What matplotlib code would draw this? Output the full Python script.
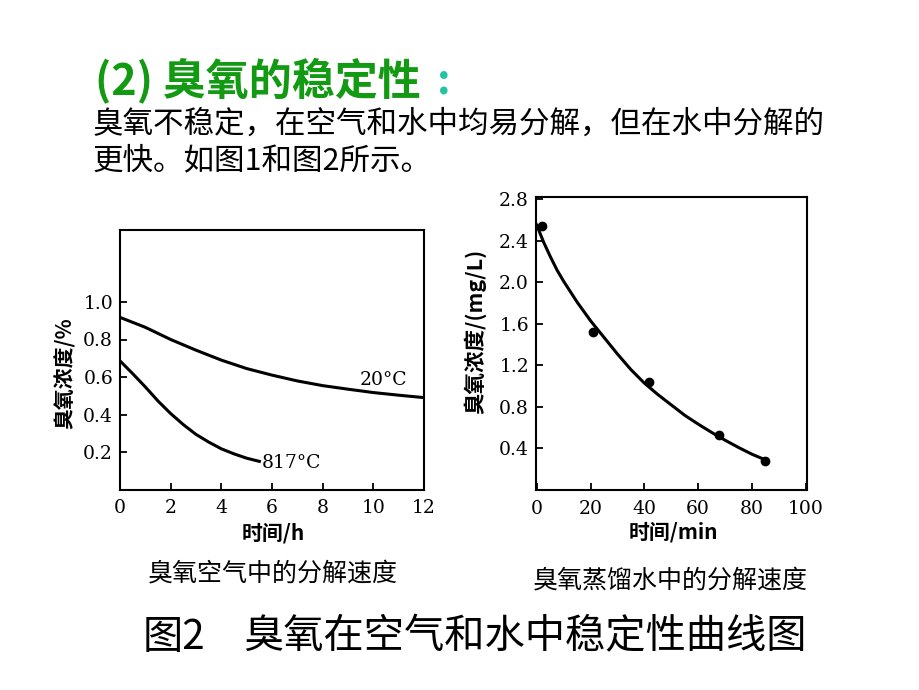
import matplotlib
matplotlib.use("Agg")
import matplotlib.pyplot as plt
import numpy as np

plt.rcParams['font.family'] = ['Noto Sans CJK SC', 'DejaVu Sans']

# 图1: 空气中 (时间/h, 浓度/%)
t_air = [0, 1, 2, 3, 4, 5, 6, 7, 8, 9, 10, 11, 12]
c_20 = [0.918, 0.865, 0.80, 0.743, 0.69, 0.645, 0.61, 0.579, 0.554, 0.535, 0.517, 0.503, 0.49]
t_817 = [0, 0.5, 1, 1.5, 2, 2.5, 3, 3.5, 4, 4.5, 5, 5.5]
c_817 = [0.686, 0.618, 0.547, 0.472, 0.405, 0.346, 0.294, 0.253, 0.217, 0.19, 0.167, 0.15]

# 图2: 蒸馏水中 (时间/min, 浓度 mg/L)
t_pts = [2.1, 21, 41.6, 67.6, 85]
c_pts = [2.54, 1.52, 1.04, 0.53, 0.28]
t_fit = [-1.3, 0, 2.5, 5, 7.5, 10, 15, 20, 25, 30, 35, 40, 45, 50, 55, 60, 65, 70, 75, 80, 85]
c_fit = [2.62, 2.55, 2.39, 2.25, 2.12, 2.01, 1.81, 1.63, 1.47, 1.31, 1.16, 1.03, 0.92, 0.82,
         0.72, 0.635, 0.555, 0.48, 0.41, 0.345, 0.29]

W, H = 920, 690
fig = plt.figure(figsize=(W / 100, H / 100), dpi=100)
fig.patch.set_facecolor('white')


def px(x, y):
    return x / W, 1 - y / H


serif = 'DejaVu Serif'

# ---- left chart
ax1 = fig.add_axes([120 / W, 1 - 489.5 / H, 304 / W, 259.5 / H])
ax1.plot(t_air, c_20, color='black', lw=2.2)
ax1.plot(t_817, c_817, color='black', lw=2.2)
ax1.set_xlim(0, 12)
ax1.set_ylim(0, 1.384)
ax1.set_xticks([0, 2, 4, 6, 8, 10, 12])
ax1.set_yticks([0.2, 0.4, 0.6, 0.8, 1.0])
ax1.set_yticklabels(['0.2', '0.4', '0.6', '0.8', '1.0'])
ax1.text(9.47, 0.583, '20°C', family=serif, fontsize=13.5, va='center', ha='left')
ax1.text(5.6, 0.14, '817°C', family=serif, fontsize=13.5, va='center', ha='left')
ax1.set_xlabel('时间/h', fontsize=15, fontweight='bold')
ax1.set_ylabel('臭氧浓度/%', fontsize=15, fontweight='bold')
ax1.xaxis.set_label_coords((273 - 120) / 304, -(533 - 489.5) / 259.5)
ax1.yaxis.set_label_coords((65 - 120) / 304, (489.5 - 373) / 259.5)

# ---- right chart
ax2 = fig.add_axes([536 / W, 1 - 490 / H, 271.3 / W, 292.7 / H])
ax2.plot(t_fit, c_fit, color='black', lw=2.2)
ax2.plot(t_pts, c_pts, 'o', color='black', markersize=6)
ax2.set_xlim(-0.3, 100.6)
ax2.set_ylim(0, 2.82)
ax2.set_xticks([0, 20, 40, 60, 80, 100])
ax2.set_yticks([0.4, 0.8, 1.2, 1.6, 2.0, 2.4, 2.8])
ax2.set_yticklabels(['0.4', '0.8', '1.2', '1.6', '2.0', '2.4', '2.8'])
ax2.set_xlabel('时间/min', fontsize=15, fontweight='bold')
ax2.set_ylabel('臭氧浓度/(mg/L)', fontsize=15.5, fontweight='bold')
ax2.xaxis.set_label_coords((673 - 536) / 271.3, -(532 - 490) / 292.7)
ax2.yaxis.set_label_coords((475 - 536) / 271.3, (490 - 331) / 292.7)

for ax in (ax1, ax2):
    for s in ax.spines.values():
        s.set_linewidth(1.5)
    ax.tick_params(direction='in', length=5, width=1.3, pad=5, labelsize=13.5)
    ax.tick_params(axis='x', pad=7)
    for lab in ax.get_xticklabels() + ax.get_yticklabels():
        lab.set_family(serif)
        lab.set_fontweight('medium')
    ax.xaxis.label.set_va('center')
    ax.yaxis.label.set_va('center')

# ---- texts
fig.text(*px(95, 80), '(2) 臭氧的稳定性', fontsize=31, fontweight='bold',
         color='#139a13', va='center', ha='left', style='italic')
fig.text(*px(437, 82), ':', fontsize=30, fontweight='bold', color='#22c4a4',
         va='center', ha='left')
fig.text(*px(93, 124), '臭氧不稳定，在空气和水中均易分解，但在水中分解的',
         fontsize=22, va='center', ha='left')
fig.text(*px(93, 161), '更快。如图1和图2所示。', fontsize=22, va='center', ha='left')

fig.text(*px(148, 573), '臭氧空气中的分解速度', fontsize=18, va='center', ha='left')
fig.text(*px(533, 580), '臭氧蒸馏水中的分解速度', fontsize=18, va='center', ha='left')
fig.text(*px(143, 637), '图2', fontsize=29, va='center', ha='left')
fig.text(*px(243, 637), '臭氧在空气和水中稳定性曲线图', fontsize=29, va='center', ha='left')

fig.savefig('out.png', dpi=100, facecolor='white')
